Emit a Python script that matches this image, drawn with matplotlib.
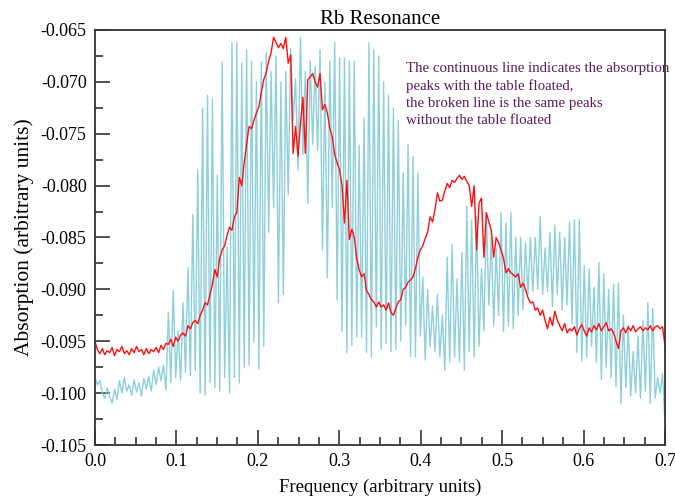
import numpy as np
import matplotlib
matplotlib.use("Agg")
import matplotlib.pyplot as plt
from matplotlib.ticker import MultipleLocator, FormatStrFormatter

# absorption readings, in units of 1e-4 (arbitrary units)
# continuous line: table floated
floated = [
    -950, -958, -962, -957, -963, -959, -961, -956, -964, -958,
    -960, -955, -962, -959, -963, -957, -961, -955, -960, -958,
    -963, -957, -962, -958, -960, -956, -961, -954, -958, -952,
    -953, -948, -955, -946, -950, -944, -942, -945, -935, -938,
    -932, -930, -933, -925, -920, -913, -915, -905, -895, -881,
    -888, -870, -862, -858, -848, -840, -843, -830, -826, -792,
    -800, -778, -760, -743, -745, -737, -730, -724, -710, -698,
    -691, -680, -672, -657, -662, -667, -663, -668, -657, -682,
    -674, -769, -743, -772, -740, -715, -769, -698, -695, -692,
    -700, -705, -692, -727, -722, -730, -745, -753, -770, -778,
    -785, -800, -836, -795, -852, -842, -850, -870, -881, -888,
    -885, -901, -905, -910, -912, -917, -912, -917, -915, -920,
    -913, -922, -925, -918, -912, -910, -900, -898, -893, -891,
    -888, -880, -869, -862, -858, -851, -845, -830, -835, -823,
    -807, -815, -814, -805, -798, -802, -795, -797, -793, -790,
    -794, -791, -796, -800, -820, -800, -862, -817, -812, -869,
    -826, -835, -843, -869, -850, -855, -862, -870, -884, -880,
    -884, -886, -888, -885, -898, -894, -900, -908, -913, -912,
    -920, -918, -925, -920, -930, -938, -927, -935, -921, -930,
    -935, -940, -933, -942, -938, -940, -936, -944, -938, -934,
    -940, -945, -937, -941, -935, -939, -933, -940, -936, -932,
    -940, -938, -942, -950, -957, -940, -937, -942, -936, -940,
    -935, -941, -938, -936, -940, -937, -939, -935, -940, -936,
    -935, -938, -936, -954,
]

# broken line: table not floated
not_floated = [
    -985, -992, -988, -1000, -1005, -995, -1003, -1010, -996, -1006,
    -988, -1000, -985, -998, -992, -1002, -987, -999, -990, -1003,
    -986, -996, -984, -998, -978, -992, -975, -988, -973, -997,
    -922, -990, -901, -985, -940, -988, -913, -980, -879, -983,
    -828, -978, -785, -1000, -725, -1002, -713, -990, -717, -995,
    -790, -998, -681, -985, -859, -1000, -662, -985, -662, -990,
    -682, -975, -669, -973, -680, -951, -700, -977, -681, -955,
    -672, -845, -690, -821, -675, -913, -700, -905, -690, -809,
    -668, -737, -697, -785, -657, -770, -690, -817, -680, -760,
    -685, -766, -669, -862, -700, -889, -680, -821, -662, -910,
    -677, -941, -677, -961, -680, -954, -680, -946, -761, -946,
    -735, -961, -662, -965, -669, -936, -675, -958, -700, -952,
    -713, -960, -725, -958, -737, -950, -788, -935, -760, -965,
    -772, -965, -788, -945, -888, -968, -900, -955, -916, -960,
    -905, -965, -925, -978, -869, -970, -857, -965, -890, -970,
    -864, -978, -820, -960, -833, -965, -830, -955, -880, -940,
    -826, -915, -850, -935, -860, -925, -826, -941, -836, -935,
    -826, -938, -850, -925, -850, -920, -855, -905, -850, -902,
    -850, -900, -830, -905, -860, -902, -845, -917, -838, -905,
    -845, -920, -850, -915, -835, -933, -833, -961, -833, -969,
    -877, -965, -880, -955, -898, -970, -874, -987, -885, -975,
    -900, -985, -895, -994, -894, -1010, -925, -995, -935, -1003,
    -960, -1000, -945, -1005, -930, -998, -913, -1010, -918, -1005,
    -985, -1000, -981, -1026,
]

plt.rcParams['font.family'] = ['Liberation Serif', 'DejaVu Serif']
plt.rcParams['axes.unicode_minus'] = False

y_red = np.array(floated) * 1e-4
y_blue = np.array(not_floated) * 1e-4
x_red = np.linspace(0.0, 0.7, len(y_red))
x_blue = np.linspace(0.0, 0.7, len(y_blue))

fig = plt.figure(figsize=(6.75, 4.99), dpi=100)
ax = fig.add_axes([0.1407, 0.1082, 0.8444, 0.8317])

ax.plot(x_blue, y_blue, color='#8dd0dc', linewidth=1.0)
ax.plot(x_red, y_red, color='#ff1010', linewidth=1.0)

ax.set_xlim(0.0, 0.7)
ax.set_ylim(-0.105, -0.065)
ax.xaxis.set_major_locator(MultipleLocator(0.1))
ax.xaxis.set_minor_locator(MultipleLocator(0.025))
ax.yaxis.set_major_locator(MultipleLocator(0.005))
ax.yaxis.set_minor_locator(MultipleLocator(0.0025))
ax.xaxis.set_major_formatter(FormatStrFormatter('%.1f'))
ax.yaxis.set_major_formatter(FormatStrFormatter('%.3f'))
ax.tick_params(which='both', direction='in', top=False, right=False,
               labelsize=13, color='#333333', width=1.2)
ax.tick_params(which='major', length=11, pad=6)
ax.tick_params(which='minor', length=5.5)
for s in ax.spines.values():
    s.set_linewidth(1.3)
    s.set_color('#333333')

ax.set_title("Rb Resonance", fontsize=15, pad=4)
ax.set_xlabel("Frequency (arbitrary units)", fontsize=13.5, labelpad=6)
ax.set_ylabel("Absorption (arbitrary units)", fontsize=15.5, labelpad=5)

note = ("The continuous line indicates the absorption\n"
        "peaks with the table floated,\n"
        "the broken line is the same peaks\n"
        "without the table floated")
ax.text(0.3815, -0.0681, note, fontsize=10.7, color='#5b1f5b',
        va='top', ha='left', linespacing=1.4)

plt.savefig("out.png", dpi=100)
